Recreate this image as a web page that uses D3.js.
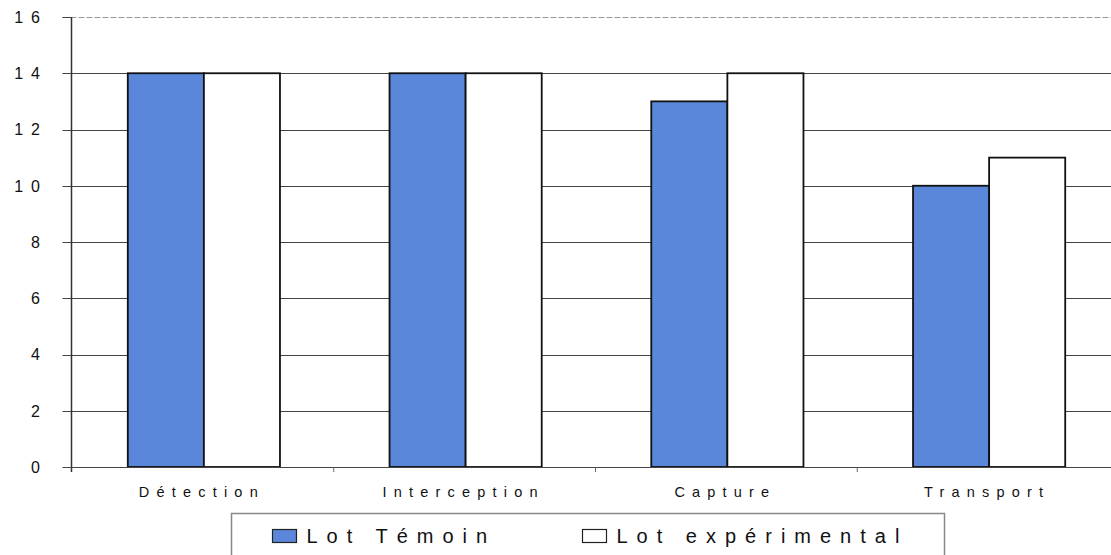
<!DOCTYPE html>
<html>
<head>
<meta charset="utf-8">
<script src="https://cdn.jsdelivr.net/npm/d3@7"></script>
<style>
  html, body { margin: 0; padding: 0; background: #fff; }
  svg { display: block; }
  text { font-family: "Liberation Sans", Arial, sans-serif; fill: #111; }
</style>
</head>
<body>
<svg id="chart" width="1111" height="555"></svg>
<script>
const categories = ["Détection", "Interception", "Capture", "Transport"];
const seriesNames = ["Lot Témoin", "Lot expérimental"];
const temoin = [14, 14, 13, 10];
const experimental = [14, 14, 14, 11];
const yTicks = [0, 2, 4, 6, 8, 10, 12, 14, 16];

const colors = ["#5a87d9", "#ffffff"];
const svg = d3.select("#chart");

const axisX = 71.5;
const y = d3.scaleLinear().domain([0, 16]).range([467, 17]);
const x0 = d3.scaleBand().domain(categories).range([73, 1120]).paddingInner(0).paddingOuter(0);
const x1 = d3.scaleBand().domain(seriesNames).range([0, x0.bandwidth()]).paddingOuter(0.72).paddingInner(0);

const data = categories.map((c, i) => ({cat: c, values: [temoin[i], experimental[i]]}));

// gridlines
svg.append("g").selectAll("line")
  .data(yTicks.filter(t => t > 0 && t < 16))
  .join("line")
  .attr("x1", axisX - 9).attr("x2", 1111)
  .attr("y1", d => Math.round(y(d)) + 0.5).attr("y2", d => Math.round(y(d)) + 0.5)
  .attr("stroke", "#444").attr("stroke-width", 1);

// top line (lighter)
svg.append("line")
  .attr("x1", axisX - 9).attr("x2", 1111)
  .attr("y1", Math.round(y(16)) + 0.5).attr("y2", Math.round(y(16)) + 0.5)
  .attr("stroke", "#9a9a9a").attr("stroke-width", 1).attr("stroke-dasharray", "6,2");
svg.append("line")
  .attr("x1", axisX - 9).attr("x2", axisX)
  .attr("y1", Math.round(y(16)) + 0.5).attr("y2", Math.round(y(16)) + 0.5)
  .attr("stroke", "#444");

// y tick labels
svg.append("g").selectAll("text")
  .data(yTicks)
  .join("text")
  .attr("x", 48)
  .attr("y", d => y(d))
  .attr("dy", "0.36em")
  .attr("text-anchor", "end")
  .style("font-size", "16px")
  .style("letter-spacing", "8px")
  .text(d => d3.format("d")(d));

// bars
const groups = svg.append("g").selectAll("g")
  .data(data)
  .join("g")
  .attr("transform", d => `translate(${x0(d.cat)},0)`);

groups.selectAll("rect")
  .data(d => d.values.map((v, i) => ({name: seriesNames[i], v, i})))
  .join("rect")
  .attr("x", d => x1(d.name))
  .attr("width", x1.bandwidth())
  .attr("y", d => y(d.v))
  .attr("height", d => y(0) - y(d.v))
  .attr("fill", d => colors[d.i])
  .attr("stroke", "#111")
  .attr("stroke-width", 1.8);

// axes lines
svg.append("line")
  .attr("x1", axisX).attr("x2", axisX)
  .attr("y1", y(16)).attr("y2", y(0) + 5)
  .attr("stroke", "#333").attr("stroke-width", 1.5);
svg.append("line")
  .attr("x1", axisX - 9).attr("x2", 1111)
  .attr("y1", y(0) + 0.5).attr("y2", y(0) + 0.5)
  .attr("stroke", "#444").attr("stroke-width", 1.2);

// category ticks
svg.append("g").selectAll("line")
  .data(categories.slice(1))
  .join("line")
  .attr("x1", d => x0(d) - 1).attr("x2", d => x0(d) - 1)
  .attr("y1", y(0)).attr("y2", y(0) + 5)
  .attr("stroke", "#666");

// category labels
svg.append("g").selectAll("text")
  .data(categories)
  .join("text")
  .attr("x", d => x0(d) + x0.bandwidth() / 2 - 2)
  .attr("y", 497)
  .attr("text-anchor", "middle")
  .style("font-size", "14.5px")
  .style("letter-spacing", "7.2px")
  .text(d => d);

// legend
const legend = svg.append("g");
legend.append("rect")
  .attr("x", 231.5).attr("y", 513.5)
  .attr("width", 713).attr("height", 60)
  .attr("fill", "#fff").attr("stroke", "#888").attr("stroke-width", 1.5);

const legendX = [272, 582];
const items = legend.selectAll("g.item")
  .data(seriesNames)
  .join("g")
  .attr("class", "item")
  .attr("transform", (d, i) => `translate(${legendX[i]},0)`);
items.append("rect")
  .attr("x", 0.5).attr("y", 529.5)
  .attr("width", 24).attr("height", 13)
  .attr("fill", (d, i) => colors[i])
  .attr("stroke", "#222").attr("stroke-width", 1.2);
items.append("text")
  .attr("x", 34.5).attr("y", 543)
  .style("font-size", "20px")
  .style("letter-spacing", "9px")
  .text(d => d);
</script>
</body>
</html>
